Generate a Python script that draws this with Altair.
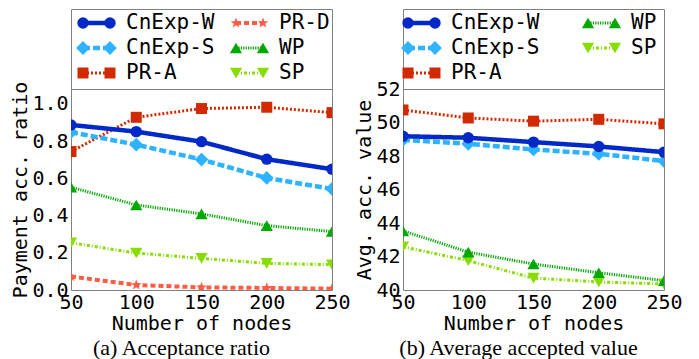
import altair as alt
import pandas as pd

nodes = [50, 100, 150, 200, 250]

series_names = ["CnExp-W", "CnExp-S", "PR-A", "PR-D", "WP", "SP"]

ratio = {
    "CnExp-W": [0.887, 0.851, 0.797, 0.703, 0.649],
    "CnExp-S": [0.848, 0.781, 0.701, 0.602, 0.543],
    "PR-A": [0.744, 0.928, 0.975, 0.982, 0.953],
    "PR-D": [0.072, 0.027, 0.014, 0.011, 0.007],
    "WP": [0.552, 0.457, 0.409, 0.346, 0.314],
    "SP": [0.253, 0.199, 0.170, 0.143, 0.136],
}

value = {
    "CnExp-W": [49.18, 49.09, 48.83, 48.57, 48.23],
    "CnExp-S": [48.96, 48.73, 48.39, 48.13, 47.70],
    "PR-A": [50.75, 50.27, 50.08, 50.19, 49.92],
    "WP": [43.53, 42.26, 41.55, 41.03, 40.56],
    "SP": [42.58, 41.75, 40.71, 40.48, 40.36],
}

STAR = ("M0,-1L0.235,-0.324L0.951,-0.309L0.380,0.124L0.588,0.809L0,0.4"
        "L-0.588,0.809L-0.380,0.124L-0.951,-0.309L-0.235,-0.324Z")

style = {
    "CnExp-W": dict(color="#0029c7", dash=[1, 0], width=4.5, shape="circle", size=130),
    "CnExp-S": dict(color="#2db3ff", dash=[7, 3], width=4.5, shape="diamond", size=190),
    "PR-A": dict(color="#d22a00", dash=[2, 2], width=3, shape="square", size=121),
    "PR-D": dict(color="#ff5c44", dash=[5, 3], width=4, shape=STAR, size=130),
    "WP": dict(color="#00a800", dash=[1.2, 1.2], width=3, shape="triangle-up", size=150),
    "SP": dict(color="#88dd00", dash=[3, 2, 1, 2], width=3, shape="triangle-down", size=150),
}

FONT = "DejaVu Sans Mono"
FS = 20
PW, PH = 261, 201
LH = 80


def plot_panel(vals, names, ytitle, ydomain, yticks, fmt):
    layers_lines = []
    layers_pts = []
    for name in names:
        df = pd.DataFrame({"nodes": nodes, "v": vals[name]})
        s = style[name]
        base = alt.Chart(df).encode(
            x=alt.X("nodes:Q", scale=alt.Scale(domain=[50, 250], nice=False, zero=False),
                    axis=alt.Axis(values=nodes, format="d", title="Number of nodes",
                                  labelFlush=False, labelOverlap=False,
                                  labelPadding=2, titlePadding=1)),
            y=alt.Y("v:Q", scale=alt.Scale(domain=ydomain, nice=False, zero=False),
                    axis=alt.Axis(values=yticks, format=fmt, title=ytitle,
                                  labelFlush=False, labelOverlap=False,
                                  labelPadding=3, titlePadding=1)),
        )
        layers_lines.append(base.mark_line(color=s["color"], strokeDash=s["dash"],
                                           strokeWidth=s["width"], clip=True))
        layers_pts.append(base.mark_point(shape=s["shape"], size=s["size"], filled=True,
                                          opacity=1, color=s["color"], clip=True))
    order = list(reversed(range(len(names))))
    layers = [layers_lines[i] for i in order] + [layers_pts[i] for i in order]
    return alt.layer(*layers).properties(width=PW, height=PH)


def legend_panel(col1, col2, col_x):
    rows_y = [14, 39, 64]
    layers = []
    for c, names in enumerate([col1, col2]):
        for r, name in enumerate(names):
            s = style[name]
            x0 = col_x[c] + 12
            x1 = col_x[c] + 39
            xt = col_x[c] + 55
            y = rows_y[r]
            seg = pd.DataFrame({"x": [x0], "x2": [x1], "y": [y]})
            pts = pd.DataFrame({"x": [x0, x1], "y": [y, y]})
            txt = pd.DataFrame({"x": [xt], "y": [y], "t": [name]})
            xs = alt.Scale(domain=[0, PW])
            ys = alt.Scale(domain=[0, LH], reverse=True)
            layers.append(alt.Chart(seg).mark_rule(color=s["color"], strokeDash=s["dash"],
                                                   strokeWidth=s["width"]).encode(
                x=alt.X("x:Q", scale=xs, axis=None), x2="x2:Q",
                y=alt.Y("y:Q", scale=ys, axis=None)))
            layers.append(alt.Chart(pts).mark_point(shape=s["shape"], size=s["size"], filled=True,
                                                    opacity=1, color=s["color"]).encode(
                x=alt.X("x:Q", scale=xs, axis=None),
                y=alt.Y("y:Q", scale=ys, axis=None)))
            layers.append(alt.Chart(txt).mark_text(align="left", baseline="middle", font=FONT,
                                                   fontSize=FS + 1, color="black").encode(
                x=alt.X("x:Q", scale=xs, axis=None),
                y=alt.Y("y:Q", scale=ys, axis=None), text="t:N"))
    return alt.layer(*layers).properties(width=PW, height=LH)


plot_a = plot_panel(ratio, series_names, "Payment acc. ratio", [0, 1.08],
                    [0.0, 0.2, 0.4, 0.6, 0.8, 1.0], ".1f")
plot_b = plot_panel(value, ["CnExp-W", "CnExp-S", "PR-A", "WP", "SP"], "Avg. acc. value",
                    [40, 52], [40, 42, 44, 46, 48, 50, 52], "d")

leg_a = legend_panel(["CnExp-W", "CnExp-S", "PR-A"], ["PR-D", "WP", "SP"], [0, 153])
leg_b = legend_panel(["CnExp-W", "CnExp-S", "PR-A"], ["WP", "SP"], [-7, 173])

cap = dict(orient="bottom", anchor="middle", font="Liberation Serif", fontSize=22,
           fontWeight="normal", color="black", offset=4)

panel_a = alt.vconcat(leg_a, plot_a, spacing=0, bounds="flush").resolve_scale(
    x="independent", y="independent").properties(
    title=alt.TitleParams("(a) Acceptance ratio", dx=1, **cap))
panel_b = alt.vconcat(leg_b, plot_b, spacing=0, bounds="flush").resolve_scale(
    x="independent", y="independent").properties(
    title=alt.TitleParams("(b) Average accepted value", dx=0, **cap))

chart = alt.hconcat(panel_a, panel_b, spacing=3).properties(
    padding={"left": 2, "top": 0, "right": 0, "bottom": 0}
).configure_view(stroke="#808080", strokeWidth=1).configure_axis(
    labelFont=FONT, labelFontSize=FS, labelColor="black",
    titleFont=FONT, titleFontSize=FS, titleFontWeight="normal", titleColor="black",
    domain=False, ticks=False, grid=False,
)

chart.save("out.html", embed_options={"renderer": "svg", "actions": False})
